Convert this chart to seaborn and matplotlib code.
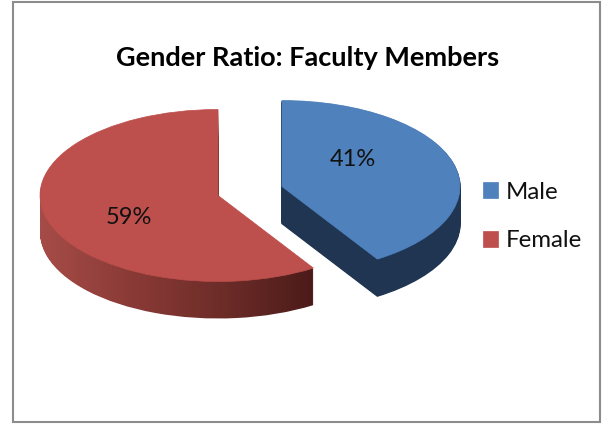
import numpy as np
import matplotlib
matplotlib.use("Agg")
import matplotlib.pyplot as plt
import seaborn as sns
from matplotlib.colors import LinearSegmentedColormap
from matplotlib.patches import Rectangle, PathPatch
from matplotlib.path import Path

categories = ["Male", "Female"]
values = [41, 59]
title = "Gender Ratio: Faculty Members"

sns.set_theme(style="white")
plt.rcParams["font.family"] = ["Lato", "DejaVu Sans"]
top_colors = sns.color_palette(["#4f81bd", "#bd4f4c"])
side_male = "#1f3552"

W, H = 610, 424
RX, RY = 178, 86  # pixels per pie radius
CX, CY = 250, 191
DEPTH = 37 / RY
explode = [0.187, 0.187]

fig = plt.figure(figsize=(W / 100, H / 100), dpi=100)
ax = fig.add_axes([0, 0, 1, 1])
ax.patch.set_visible(False)

# frame of the chart
fig.patches.append(Rectangle((13 / W, 1 - 422 / H), 587 / W, 420 / H, transform=fig.transFigure,
                             facecolor="white", edgecolor="#8c8c8c", lw=1.5, zorder=-1))

steps = np.linspace(DEPTH, 0, 38)[:-1]
female_paths = []
for d in steps:
    wedges, _ = ax.pie(values, explode=explode, startangle=90, counterclock=False, radius=1,
                       center=(0, -d), colors=[side_male, "#8f3a38"], frame=False)
    wedges[0].set_edgecolor(side_male)
    wedges[0].set_linewidth(1)
    female_paths.append(wedges[1].get_path().transformed(wedges[1].get_patch_transform()))
    wedges[1].set_visible(False)

# gradient side of the female slice
side_cmap = LinearSegmentedColormap.from_list("side", ["#a64c48", "#8a3a36", "#6c2c28", "#4a1a18"])
grad = ax.imshow(np.linspace(0, 1, 256).reshape(1, -1), cmap=side_cmap, aspect="auto",
                 extent=((40 - CX) / RX, (318 - CX) / RX, -2, 1), zorder=1.5)
clip = PathPatch(Path.make_compound_path(*female_paths), transform=ax.transData, visible=False)
ax.add_patch(clip)
grad.set_clip_path(clip)

wedges, _, autotexts = ax.pie(values, explode=explode, startangle=90, counterclock=False, radius=1,
                              colors=top_colors, autopct=lambda p: f"{p:.0f}%", frame=False,
                              textprops=dict(fontsize=17, color="#111111"))
for w, c in zip(wedges, top_colors):
    w.set_zorder(2)
    w.set_edgecolor(c)
    w.set_linewidth(0.5)
for t, (px, py) in zip(autotexts, [(353, 160), (129, 218)]):
    t.set_position(((px - CX) / RX, (CY - py) / RY))
    t.set_zorder(3)

ax.set_aspect("auto")
ax.set_xlim(-CX / RX, (W - CX) / RX)
ax.set_ylim((CY - H) / RY, CY / RY)
ax.axis("off")

fig.text(308 / W, 1 - 58 / H, title, ha="center", va="center", fontsize=19.5, fontweight="bold", color="black")

leg = ax.legend(wedges, categories, loc="center left", bbox_to_anchor=(461 / W, 1 - 216.5 / H),
                bbox_transform=fig.transFigure, frameon=False, fontsize=17.3, handlelength=0.65, handleheight=0.65,
                handletextpad=0.3, labelspacing=1.15, labelcolor="#111111")

fig.savefig("out.png", dpi=100)
